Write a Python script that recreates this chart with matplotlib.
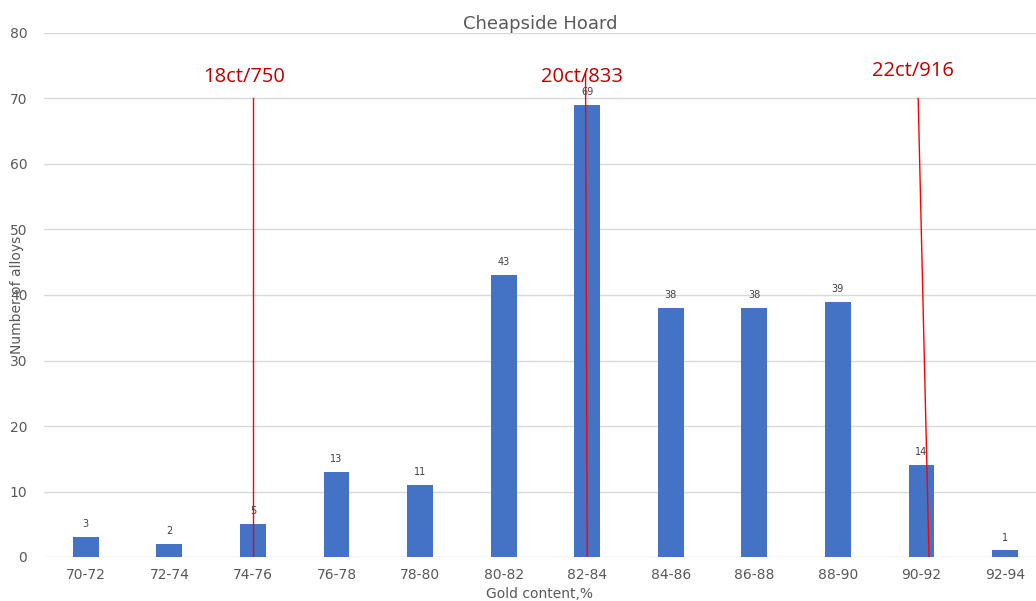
import matplotlib.pyplot as plt

bins = ["70-72", "72-74", "74-76", "76-78", "78-80", "80-82",
        "82-84", "84-86", "86-88", "88-90", "90-92", "92-94"]
counts = [3, 2, 5, 13, 11, 43, 69, 38, 38, 39, 14, 1]

# carat reference lines: label, (x top, x bottom), y top, label position
carat_labels = ["18ct/750", "20ct/833", "22ct/916"]
carat_x_top = [2.0, 5.98, 9.96]
carat_x_bottom = [2.0, 6.0, 10.09]
carat_y_top = [70, 74, 70]
label_xy = [(1.9, 71.7), (5.94, 71.7), (9.9, 72.6)]

bar_color = "#4472C4"
grey = "#595959"

fig = plt.figure(figsize=(10.36, 6.01), dpi=100)
ax = fig.add_axes([44 / 1036, 44 / 601, 992 / 1036, 524 / 601])

x = range(len(bins))
bars = ax.bar(x, counts, width=0.31, color=bar_color, zorder=2)
for b, v in zip(bars, counts):
    ax.text(b.get_x() + b.get_width() / 2, v + 1.2, str(v), ha="center",
            va="bottom", fontsize=7, color="#404040")

for i in range(len(carat_labels)):
    ax.plot([carat_x_top[i], carat_x_bottom[i]], [carat_y_top[i], 0],
            color="#FF0000", lw=1.0, zorder=3)
    ax.text(label_xy[i][0], label_xy[i][1], carat_labels[i], ha="center",
            va="bottom", fontsize=14.5, color="#C00000", family="Open Sans")

ax.set_xlim(-0.5, 11.37)
ax.set_ylim(0, 80)
ax.set_yticks(range(0, 81, 10))
ax.set_xticks(list(x))
ax.set_xticklabels(bins)
ax.grid(axis="y", color="#D9D9D9", lw=1, zorder=0)
ax.tick_params(length=0, labelsize=10, labelcolor=grey)
ax.tick_params(axis="y", pad=12)
ax.tick_params(axis="x", pad=8)
for s in ax.spines.values():
    s.set_visible(False)

ax.set_title("Cheapside Hoard", fontsize=13, color=grey, pad=-5)
ax.set_xlabel("Gold content,%", fontsize=10, color=grey)
ax.xaxis.set_label_coords(0.5, -0.058)
ax.set_ylabel("Number of alloys", fontsize=10, color=grey)
ax.yaxis.set_label_coords(-0.02, 0.5)

fig.savefig("out.png")
